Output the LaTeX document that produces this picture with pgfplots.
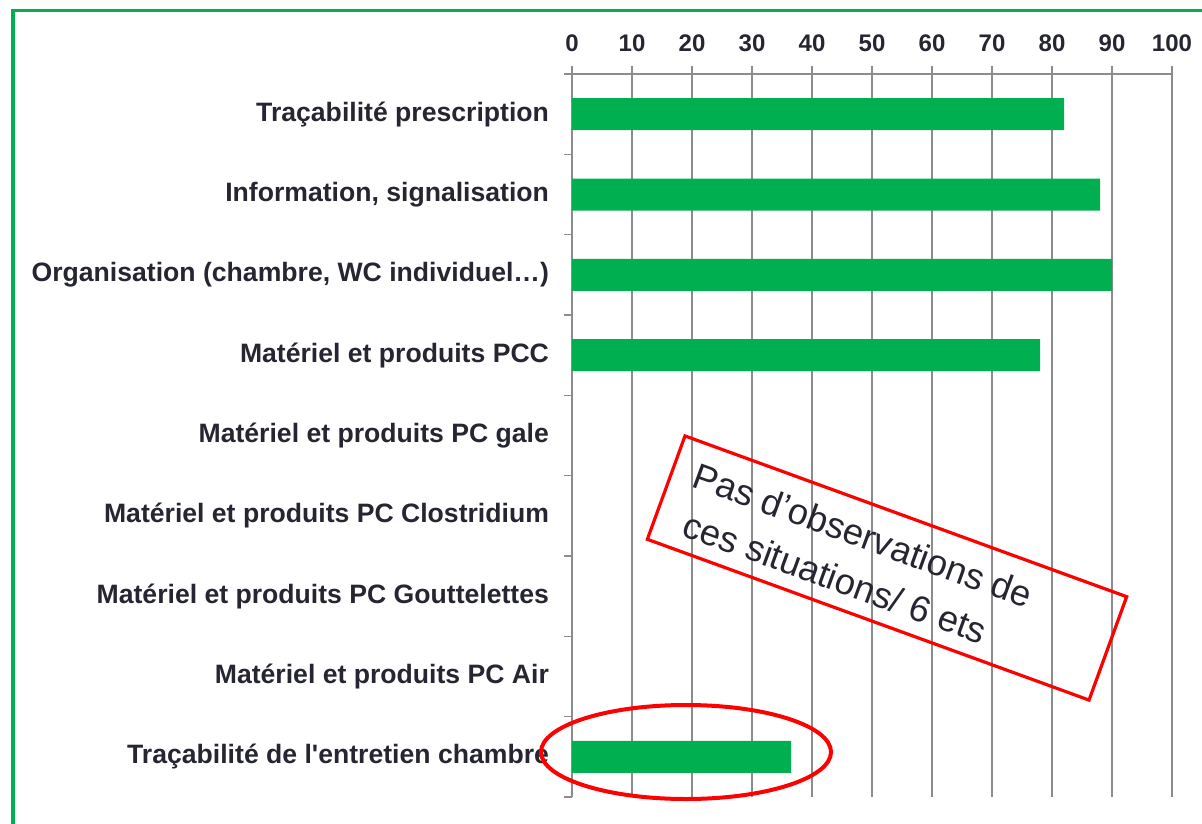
\documentclass[border=0pt]{standalone}
\usepackage{pgfplots}
\pgfplotsset{compat=1.18}
\usepackage{fontspec}
\setmainfont{Liberation Sans}
\definecolor{bargreen}{HTML}{00B050}
\definecolor{txt}{HTML}{262632}
\definecolor{gridgray}{HTML}{8C8C8C}
\definecolor{annred}{HTML}{FF0000}
\begin{document}
\begin{tikzpicture}
\useasboundingbox (0pt,0pt) rectangle (601pt,-411.5pt);
\begin{axis}[
  at={(286pt,-37pt)}, anchor=north west,
  scale only axis, width=300pt, height=361.5pt,
  xmin=0, xmax=100, ymin=0.5, ymax=9.5, y dir=reverse,
  axis x line*=top, axis y line*=left,
  axis line style={gridgray, line width=0.6pt},
  xtick={0,10,...,100},
  xmajorgrids, major grid style={gridgray, line width=0.6pt},
  tick align=outside,
  tick style={gridgray, line width=0.6pt},
  major tick length=4pt,
  x tick label style={font=\bfseries\fontsize{12}{14}\selectfont, text=txt, yshift=3.5pt},
  ytick={0.5,1.5,...,9.5},
  yticklabels={},
  extra y ticks={1,...,9},
  extra y tick style={major tick length=0pt, ymajorgrids=false},
  extra y tick labels={Traçabilité prescription,{Information, signalisation},{Organisation (chambre, WC individuel…)},Matériel et produits PCC,Matériel et produits PC gale,Matériel et produits PC Clostridium,Matériel et produits PC Gouttelettes,Matériel et produits PC Air,Traçabilité de l\textquotesingle entretien chambre},
  y tick label style={font=\bfseries\fontsize{13.3}{15}\selectfont, text=txt, xshift=-8pt},
  /pgf/number format/assume math mode=true,
  clip=false,
]
\addplot[xbar, bar width=16pt, fill=bargreen, draw=none] coordinates {
(82,1) (88,2) (90,3) (78,4) (36.5,9)
};
\end{axis}
\begin{scope}[x=0.5pt, y=-0.5pt]
\draw[bargreen, line width=1.75pt] (13,830) -- (13,10.7) -- (1210,10.7);
\draw[annred, line width=2pt] (686,752) ellipse [x radius=72.5pt, y radius=23.5pt];
\node[draw=annred, line width=1.6pt, rotate=-20, minimum width=235pt, minimum height=55pt, inner sep=0pt] at (887,568) {};
\node[rotate=-20, text=txt, font=\fontsize{18.2}{22}\selectfont, anchor=base west, inner sep=0pt] at (690,486) {Pas d’observations de};
\node[rotate=-20, text=txt, font=\fontsize{18.2}{22}\selectfont, anchor=base west, inner sep=0pt] at (680,535) {ces situations/ 6 ets};
\end{scope}
\end{tikzpicture}
\end{document}
